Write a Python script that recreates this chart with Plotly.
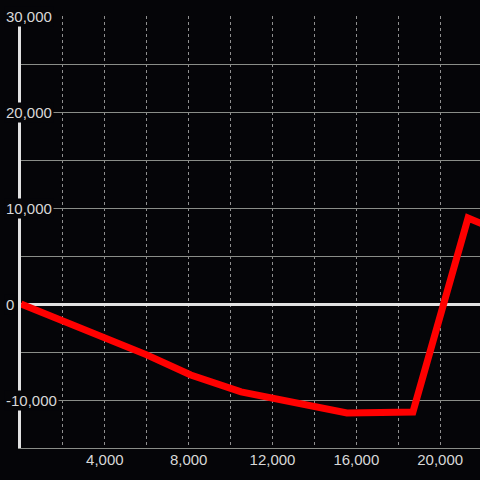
import plotly.graph_objects as go

# series
x_vals = [0, 4000, 6000, 8100, 10500, 15550, 18700, 21330, 22000]
y_vals = [0, -3450, -5300, -7400, -9150, -11350, -11250, 8950, 8350]

x_ticks = [4000, 8000, 12000, 16000, 20000]
x_minor = [2000, 6000, 10000, 14000, 18000]
y_label_vals = [30000, 20000, 10000, 0, -10000]

bg = "#050508"
grid = "#8a8d88"
dot_grid = "#8f8f8f"
axis_white = "#e2e2e2"
label_col = "#d8d8d8"

fig = go.Figure()
fig.add_trace(go.Scatter(
    x=x_vals, y=y_vals, mode="lines",
    line=dict(color="#ff0000", width=7),
    hoverinfo="skip",
))

fig.update_xaxes(
    range=[0, 21900],
    tickvals=x_ticks,
    ticktext=[f"{v:,}" for v in x_ticks],
    showgrid=True, gridcolor=dot_grid, gridwidth=1, griddash="dot",
    minor=dict(tickvals=x_minor, showgrid=True, gridcolor=dot_grid,
               griddash="dot", gridwidth=1),
    zeroline=False,
    showline=True, linecolor=grid, linewidth=1,
    ticks="", tickfont=dict(size=15, color=label_col),
    ticklabelstandoff=-2,
)
fig.update_yaxes(
    range=[-15000, 30000],
    dtick=5000, tick0=0,
    showgrid=True, gridcolor=grid, gridwidth=1,
    zeroline=True, zerolinecolor=axis_white, zerolinewidth=3,
    showline=True, linecolor=axis_white, linewidth=3,
    showticklabels=False, ticks="",
)

# y labels sit over the axis line with a background patch, as in the reference
for v in y_label_vals:
    fig.add_annotation(
        x=0, xref="paper", y=v, yref="y",
        text=f"{v:,}", showarrow=False,
        xanchor="left", yanchor="middle", xshift=-17,
        bgcolor=bg, borderpad=1,
        font=dict(size=15, color=label_col),
    )

fig.update_layout(
    width=480, height=480,
    margin=dict(l=21, r=0, t=16, b=32),
    paper_bgcolor=bg, plot_bgcolor=bg,
    font=dict(family="Liberation Sans, Arial, sans-serif"),
    showlegend=False,
)

fig.write_html("out.html", config={"displayModeBar": False},
               post_script="document.body.style.margin='0';")
